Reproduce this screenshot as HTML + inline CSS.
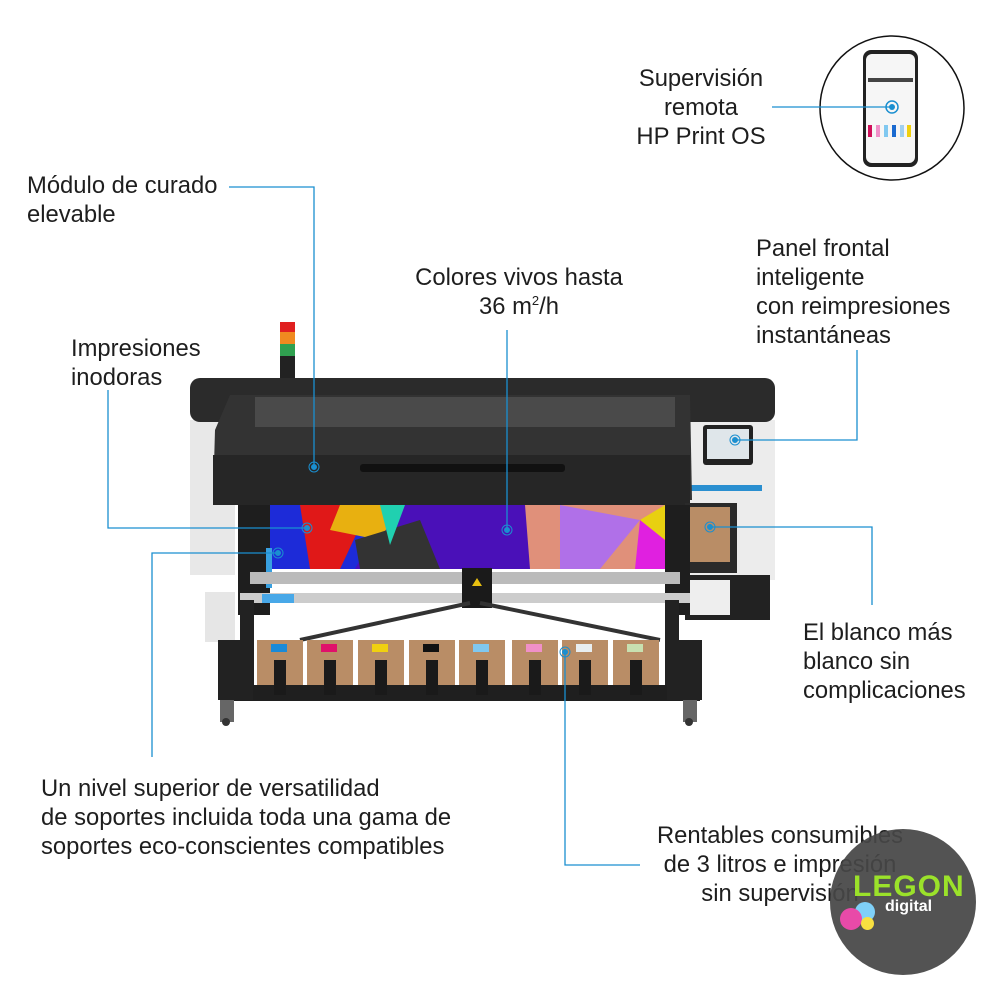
<!DOCTYPE html>
<html><head><meta charset="utf-8"><style>
body{margin:0;width:1000px;height:1000px;background:#fff;position:relative;overflow:hidden;font-family:"Liberation Sans",sans-serif;}
.t{position:absolute;font-size:23.8px;line-height:29px;color:#1e1e1e;white-space:nowrap;}
.c{text-align:center}
.a{position:absolute}
</style></head><body>

<svg class="a" style="left:0;top:0" width="1000" height="1000">
 <rect x="280" y="322" width="15" height="10" fill="#e02020"/>
 <rect x="280" y="332" width="15" height="12" fill="#f08a20"/>
 <rect x="280" y="344" width="15" height="12" fill="#30a050"/>
 <rect x="280" y="356" width="15" height="22" fill="#222"/>
 <rect x="190" y="420" width="45" height="155" fill="#e8e8e8"/>
 <rect x="688" y="420" width="87" height="160" fill="#ececec"/>
 <rect x="690" y="485" width="72" height="6" fill="#2a8fd0"/>
 <rect x="190" y="378" width="585" height="44" rx="10" fill="#2b2b2b"/>
 <path d="M230 395 L690 395 L692 500 L213 500 L215 430 Z" fill="#333"/>
 <rect x="255" y="397" width="420" height="30" fill="#4a4a4a"/>
 <rect x="213" y="455" width="477" height="50" fill="#262626"/>
 <rect x="360" y="464" width="205" height="8" rx="3" fill="#111"/>
 <rect x="703" y="425" width="50" height="40" rx="3" fill="#222"/>
 <rect x="707" y="429" width="42" height="30" fill="#dfe6ea"/>
 <rect x="685" y="503" width="52" height="70" fill="#2a2a2a"/>
 <rect x="690" y="507" width="40" height="55" fill="#b98d66"/>
 <rect x="685" y="575" width="85" height="45" fill="#222"/>
 <rect x="690" y="580" width="40" height="35" fill="#eee"/>
 <rect x="269" y="505" width="396" height="64" fill="#4a10b8"/>
 <polygon points="269,505 390,505 355,569 269,569" fill="#1d2bd8"/>
 <polygon points="300,505 370,505 340,569 310,569" fill="#e01818"/>
 <polygon points="340,505 400,505 380,540 330,530" fill="#e8b010"/>
 <polygon points="355,540 420,520 440,569 360,569" fill="#333"/>
 <polygon points="380,505 405,505 390,545" fill="#20d0b0"/>
 <polygon points="525,505 665,505 665,569 530,569" fill="#e0907a"/>
 <polygon points="560,505 640,520 600,569 560,569" fill="#b070e8"/>
 <polygon points="640,520 665,510 665,569 635,569" fill="#e020e0"/>
 <polygon points="640,520 665,505 665,540" fill="#e8d010"/>
 <rect x="238" y="505" width="32" height="110" fill="#1e1e1e"/>
 <rect x="665" y="505" width="25" height="110" fill="#1e1e1e"/>
 <rect x="266" y="548" width="6" height="40" fill="#38a0e0"/>
 <rect x="250" y="572" width="430" height="12" fill="#bbb"/>
 <rect x="240" y="593" width="450" height="10" fill="#ccc"/>
 <rect x="262" y="594" width="32" height="9" fill="#48a8e8"/>
 <rect x="462" y="568" width="30" height="40" fill="#1a1a1a"/>
 <polygon points="477,578 472,586 482,586" fill="#e8c010"/>
 <rect x="205" y="592" width="30" height="50" fill="#e6e6e6"/>
 <line x1="300" y1="640" x2="470" y2="603" stroke="#333" stroke-width="4"/>
 <line x1="660" y1="640" x2="480" y2="603" stroke="#333" stroke-width="4"/>
 <rect x="240" y="600" width="14" height="100" fill="#222"/>
 <rect x="665" y="600" width="14" height="100" fill="#222"/>
 <rect x="220" y="685" width="480" height="16" fill="#1f1f1f"/>
 <rect x="218" y="640" width="35" height="60" fill="#222"/>
 <rect x="667" y="640" width="35" height="60" fill="#222"/>
 <rect x="220" y="700" width="14" height="22" fill="#666"/><circle cx="226" cy="722" r="4" fill="#333"/>
 <rect x="683" y="700" width="14" height="22" fill="#666"/><circle cx="689" cy="722" r="4" fill="#333"/>
 <g>
  <rect x="257" y="640" width="46" height="45" fill="#b98d66"/><rect x="271" y="644" width="16" height="8" fill="#1a8ad8"/>
  <rect x="307" y="640" width="46" height="45" fill="#b98d66"/><rect x="321" y="644" width="16" height="8" fill="#e0106a"/>
  <rect x="358" y="640" width="46" height="45" fill="#b98d66"/><rect x="372" y="644" width="16" height="8" fill="#f0d010"/>
  <rect x="409" y="640" width="46" height="45" fill="#b98d66"/><rect x="423" y="644" width="16" height="8" fill="#111"/>
  <rect x="459" y="640" width="46" height="45" fill="#b98d66"/><rect x="473" y="644" width="16" height="8" fill="#80c8f0"/>
  <rect x="512" y="640" width="46" height="45" fill="#b98d66"/><rect x="526" y="644" width="16" height="8" fill="#f090c8"/>
  <rect x="562" y="640" width="46" height="45" fill="#b98d66"/><rect x="576" y="644" width="16" height="8" fill="#e8eef0"/>
  <rect x="613" y="640" width="46" height="45" fill="#b98d66"/><rect x="627" y="644" width="16" height="8" fill="#c8e0b0"/>
 </g>
 <g fill="#1a1a1a">
  <rect x="274" y="660" width="12" height="35"/><rect x="324" y="660" width="12" height="35"/><rect x="375" y="660" width="12" height="35"/><rect x="426" y="660" width="12" height="35"/>
  <rect x="476" y="660" width="12" height="35"/><rect x="529" y="660" width="12" height="35"/><rect x="579" y="660" width="12" height="35"/><rect x="630" y="660" width="12" height="35"/>
 </g>

 <g stroke="#1a8fd0" stroke-width="1.3" fill="none">
  <polyline points="229,187 314,187 314,467"/>
  <polyline points="108,390 108,528 307,528"/>
  <line x1="507" y1="330" x2="507" y2="530"/>
  <polyline points="735,440 857,440 857,350"/>
  <polyline points="710,527 872,527 872,605"/>
  <polyline points="152,757 152,553 278,553"/>
  <polyline points="565,652 565,865 640,865"/>
 </g>
 <g fill="#1a8fd0" stroke="#1a8fd0">
  <circle cx="314" cy="467" r="2.5"/><circle cx="314" cy="467" r="5" fill="none" stroke-width="1"/>
  <circle cx="307" cy="528" r="2.5"/><circle cx="307" cy="528" r="5" fill="none" stroke-width="1"/>
  <circle cx="507" cy="530" r="2.5"/><circle cx="507" cy="530" r="5" fill="none" stroke-width="1"/>
  <circle cx="735" cy="440" r="2.5"/><circle cx="735" cy="440" r="5" fill="none" stroke-width="1"/>
  <circle cx="710" cy="527" r="2.5"/><circle cx="710" cy="527" r="5" fill="none" stroke-width="1"/>
  <circle cx="278" cy="553" r="2.5"/><circle cx="278" cy="553" r="5" fill="none" stroke-width="1"/>
  <circle cx="565" cy="652" r="2.5"/><circle cx="565" cy="652" r="5" fill="none" stroke-width="1"/>
 </g>

 <circle cx="892" cy="108" r="72" fill="#fff" stroke="#111" stroke-width="1.5"/>
 <rect x="863" y="50" width="55" height="117" rx="8" fill="#222"/>
 <rect x="866" y="54" width="49" height="109" rx="6" fill="#f6f6f6"/>
 <rect x="868" y="78" width="45" height="4" fill="#444"/>
 <g><rect x="868" y="125" width="4" height="12" fill="#d0105a"/><rect x="876" y="125" width="4" height="12" fill="#f090c8"/><rect x="884" y="125" width="4" height="12" fill="#80c8f0"/><rect x="892" y="125" width="4" height="12" fill="#1a6ad0"/><rect x="900" y="125" width="4" height="12" fill="#a0d0f0"/><rect x="907" y="125" width="4" height="12" fill="#f0d010"/></g>
 <line x1="772" y1="107" x2="892" y2="107" stroke="#1a8fd0" stroke-width="1.3"/>
 <circle cx="892" cy="107" r="3" fill="#1a8fd0"/><circle cx="892" cy="107" r="6" fill="none" stroke="#1a8fd0" stroke-width="1.5"/>
</svg>

<div class="t" style="left:27px;top:171px">Módulo de curado<br>elevable</div>
<div class="t" style="left:71px;top:334px">Impresiones<br>inodoras</div>
<div class="t c" style="left:380px;top:263px;width:278px">Colores vivos hasta<br>36 m<sup style="font-size:13px;line-height:0">2</sup>/h</div>
<div class="t c" style="left:610px;top:64px;width:182px">Supervisión<br>remota<br>HP Print OS</div>
<div class="t" style="left:756px;top:234px">Panel frontal<br>inteligente<br>con reimpresiones<br>instantáneas</div>
<div class="t" style="left:803px;top:618px">El blanco más<br>blanco sin<br>complicaciones</div>
<div class="t" style="left:41px;top:774px">Un nivel superior de versatilidad<br>de soportes incluida toda una gama de<br>soportes eco-conscientes compatibles</div>
<div class="t c" style="left:640px;top:821px;width:280px">Rentables consumibles<br>de 3 litros e impresión<br>sin supervisión</div>

<div class="a" style="left:830px;top:829px;width:146px;height:146px;border-radius:50%;background:rgba(70,70,70,0.93)"></div>
<div class="a" style="left:853px;top:872px;font-size:30px;font-weight:bold;color:#9be22a;letter-spacing:1px;line-height:30px">LEGON</div>
<div class="a" style="left:885px;top:899px;font-size:16px;font-weight:bold;color:#fff;line-height:16px">digital</div>
<div class="a" style="left:855px;top:902px;width:20px;height:20px;border-radius:50%;background:#7fd0f8"></div>
<div class="a" style="left:840px;top:908px;width:22px;height:22px;border-radius:50%;background:#e84aa8"></div>
<div class="a" style="left:861px;top:917px;width:13px;height:13px;border-radius:50%;background:#f8e040"></div>
</body></html>
